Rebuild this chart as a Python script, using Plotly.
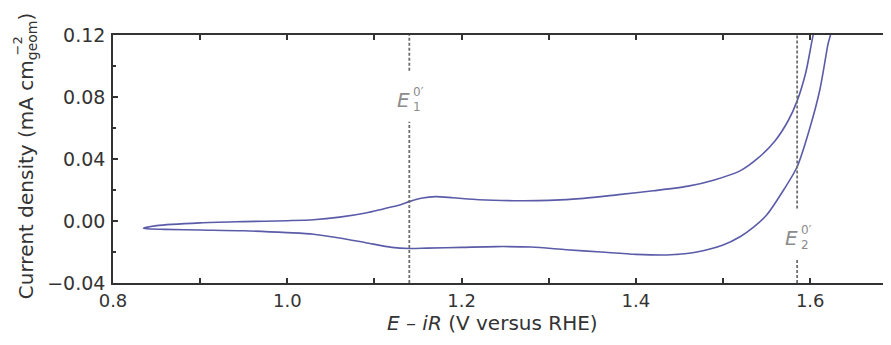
import plotly.graph_objects as go

# ---- data ----
fwd_E = [0.835, 0.85, 0.90, 0.95, 1.00, 1.03, 1.06, 1.09, 1.11, 1.13, 1.14, 1.155,
         1.17, 1.19, 1.22, 1.26, 1.30, 1.34, 1.38, 1.42, 1.46, 1.49, 1.52, 1.54,
         1.56, 1.575, 1.585, 1.595, 1.603, 1.61]
fwd_j = [-0.0047, -0.0030, -0.0012, -0.0004, 0.0002, 0.0008, 0.0025, 0.0052, 0.0078,
         0.0105, 0.0125, 0.0148, 0.0157, 0.0150, 0.0137, 0.0131, 0.0133, 0.0146,
         0.0170, 0.0195, 0.0225, 0.0265, 0.0325, 0.0405, 0.0520, 0.0650, 0.0775,
         0.0960, 0.1190, 0.1350]
rev_E = [1.625, 1.62, 1.611, 1.60, 1.585, 1.57, 1.55, 1.535, 1.52, 1.50, 1.47, 1.44,
         1.40, 1.36, 1.32, 1.28, 1.24, 1.20, 1.16, 1.14, 1.12, 1.09, 1.06, 1.03,
         1.00, 0.95, 0.90, 0.86, 0.84, 0.835]
rev_j = [0.128, 0.113, 0.0845, 0.0608, 0.0350, 0.0205, 0.0039, -0.0040, -0.0100,
         -0.0155, -0.0200, -0.0218, -0.0215, -0.0200, -0.0185, -0.0168, -0.0165,
         -0.0170, -0.0175, -0.0177, -0.0170, -0.0140, -0.0110, -0.0085, -0.0075,
         -0.0063, -0.0058, -0.0054, -0.0050, -0.0047]

E0_values = [1.14, 1.585]
E0_subs = ["1", "2"]
E0_label_j = [0.078, -0.011]

x_ticks = [0.8, 1.0, 1.2, 1.4, 1.6]
x_ticktext = ["0.8", "1.0", "1.2", "1.4", "1.6"]
y_ticks = [-0.04, 0.00, 0.04, 0.08, 0.12]
y_ticktext = ["\u22120.04", "0.00", "0.04", "0.08", "0.12"]

# ---- styling ----
FONT = "DejaVu Sans"
AX = "#333333"
CURVE = "#5b5ca8"
GREY = "#8c8c8c"
X_RANGE = [0.8, 1.6927]
Y_RANGE = [-0.04, 0.12]

fig = go.Figure()

cv_E = fwd_E + rev_E
cv_j = fwd_j + rev_j
fig.add_trace(go.Scatter(x=cv_E, y=cv_j, mode="lines",
                         line=dict(color=CURVE, width=1.6, shape="spline", smoothing=0.8),
                         showlegend=False))

# dashed formal-potential lines (with a gap where the label sits)
for E, jl in zip(E0_values, E0_label_j):
    for y0, y1 in [(jl + 0.019, Y_RANGE[1]), (Y_RANGE[0], jl - 0.014)]:
        fig.add_trace(go.Scatter(x=[E, E], y=[y0, y1], mode="lines",
                                 line=dict(color="#6e6e6e", width=1.8, dash="3px,2px"),
                                 hoverinfo="skip", showlegend=False))

ann = []
for E, s, jl in zip(E0_values, E0_subs, E0_label_j):
    ann.append(dict(x=E, y=jl, xref="x", yref="y", text="<i>E</i>", showarrow=False,
                    xanchor="right", yanchor="middle", xshift=3,
                    font=dict(family=FONT, size=20, color=GREY)))
    ann.append(dict(x=E, y=jl, xref="x", yref="y", text="0\u2032", showarrow=False,
                    xanchor="left", yanchor="middle", xshift=2, yshift=8,
                    font=dict(family=FONT, size=12, color=GREY)))
    ann.append(dict(x=E, y=jl, xref="x", yref="y", text=s, showarrow=False,
                    xanchor="left", yanchor="middle", xshift=2, yshift=-7,
                    font=dict(family=FONT, size=12, color=GREY)))

# axis titles
ann.append(dict(x=0.488, y=-0.162, xref="paper", yref="paper",
                text="<i>E</i> \u2013 <i>iR</i> (V versus RHE)", showarrow=False,
                xanchor="center", yanchor="middle",
                font=dict(family=FONT, size=20, color=AX)))
ann.append(dict(x=-0.111, y=0.51, xref="paper", yref="paper",
                text="Current density (mA cm<sub>geom</sub>)", showarrow=False,
                textangle=-90, xanchor="center", yanchor="middle",
                font=dict(family=FONT, size=20, color=AX)))
ann.append(dict(x=-0.123, y=0.955, xref="paper", yref="paper",
                text="\u22122", showarrow=False,
                textangle=-90, xanchor="center", yanchor="middle",
                font=dict(family=FONT, size=13, color=AX)))

# the page body adds an 8 px offset, so the figure is 8 px smaller than the window
fig.update_layout(
    width=883, height=337,
    margin=dict(l=105, r=0, t=27, b=62, autoexpand=False),
    paper_bgcolor="white", plot_bgcolor="white",
    font=dict(family=FONT, size=19, color=AX),
    annotations=ann,
    xaxis=dict(range=X_RANGE, tickvals=x_ticks, ticktext=x_ticktext,
               ticks="inside", ticklen=5, tickwidth=1.5, tickcolor=AX,
               showline=True, linecolor=AX, linewidth=1.6, mirror="ticks",
               showgrid=False, zeroline=False, ticklabelstandoff=1,
               tickfont=dict(family=FONT, size=18, color=AX),
               minor=dict(dtick=0.1, tick0=0.8, ticks="inside", ticklen=5,
                          tickwidth=1.5, tickcolor=AX, showgrid=False)),
    yaxis=dict(range=Y_RANGE, tickvals=y_ticks, ticktext=y_ticktext,
               ticks="inside", ticklen=5, tickwidth=1.5, tickcolor=AX,
               showline=True, linecolor=AX, linewidth=1.6, mirror=False,
               showgrid=False, zeroline=False, ticklabelstandoff=2,
               tickfont=dict(family=FONT, size=19, color=AX),
               minor=dict(dtick=0.02, tick0=0, ticks="inside", ticklen=3,
                          tickwidth=1.5, tickcolor=AX, showgrid=False)),
)

fig.write_html("out.html")
